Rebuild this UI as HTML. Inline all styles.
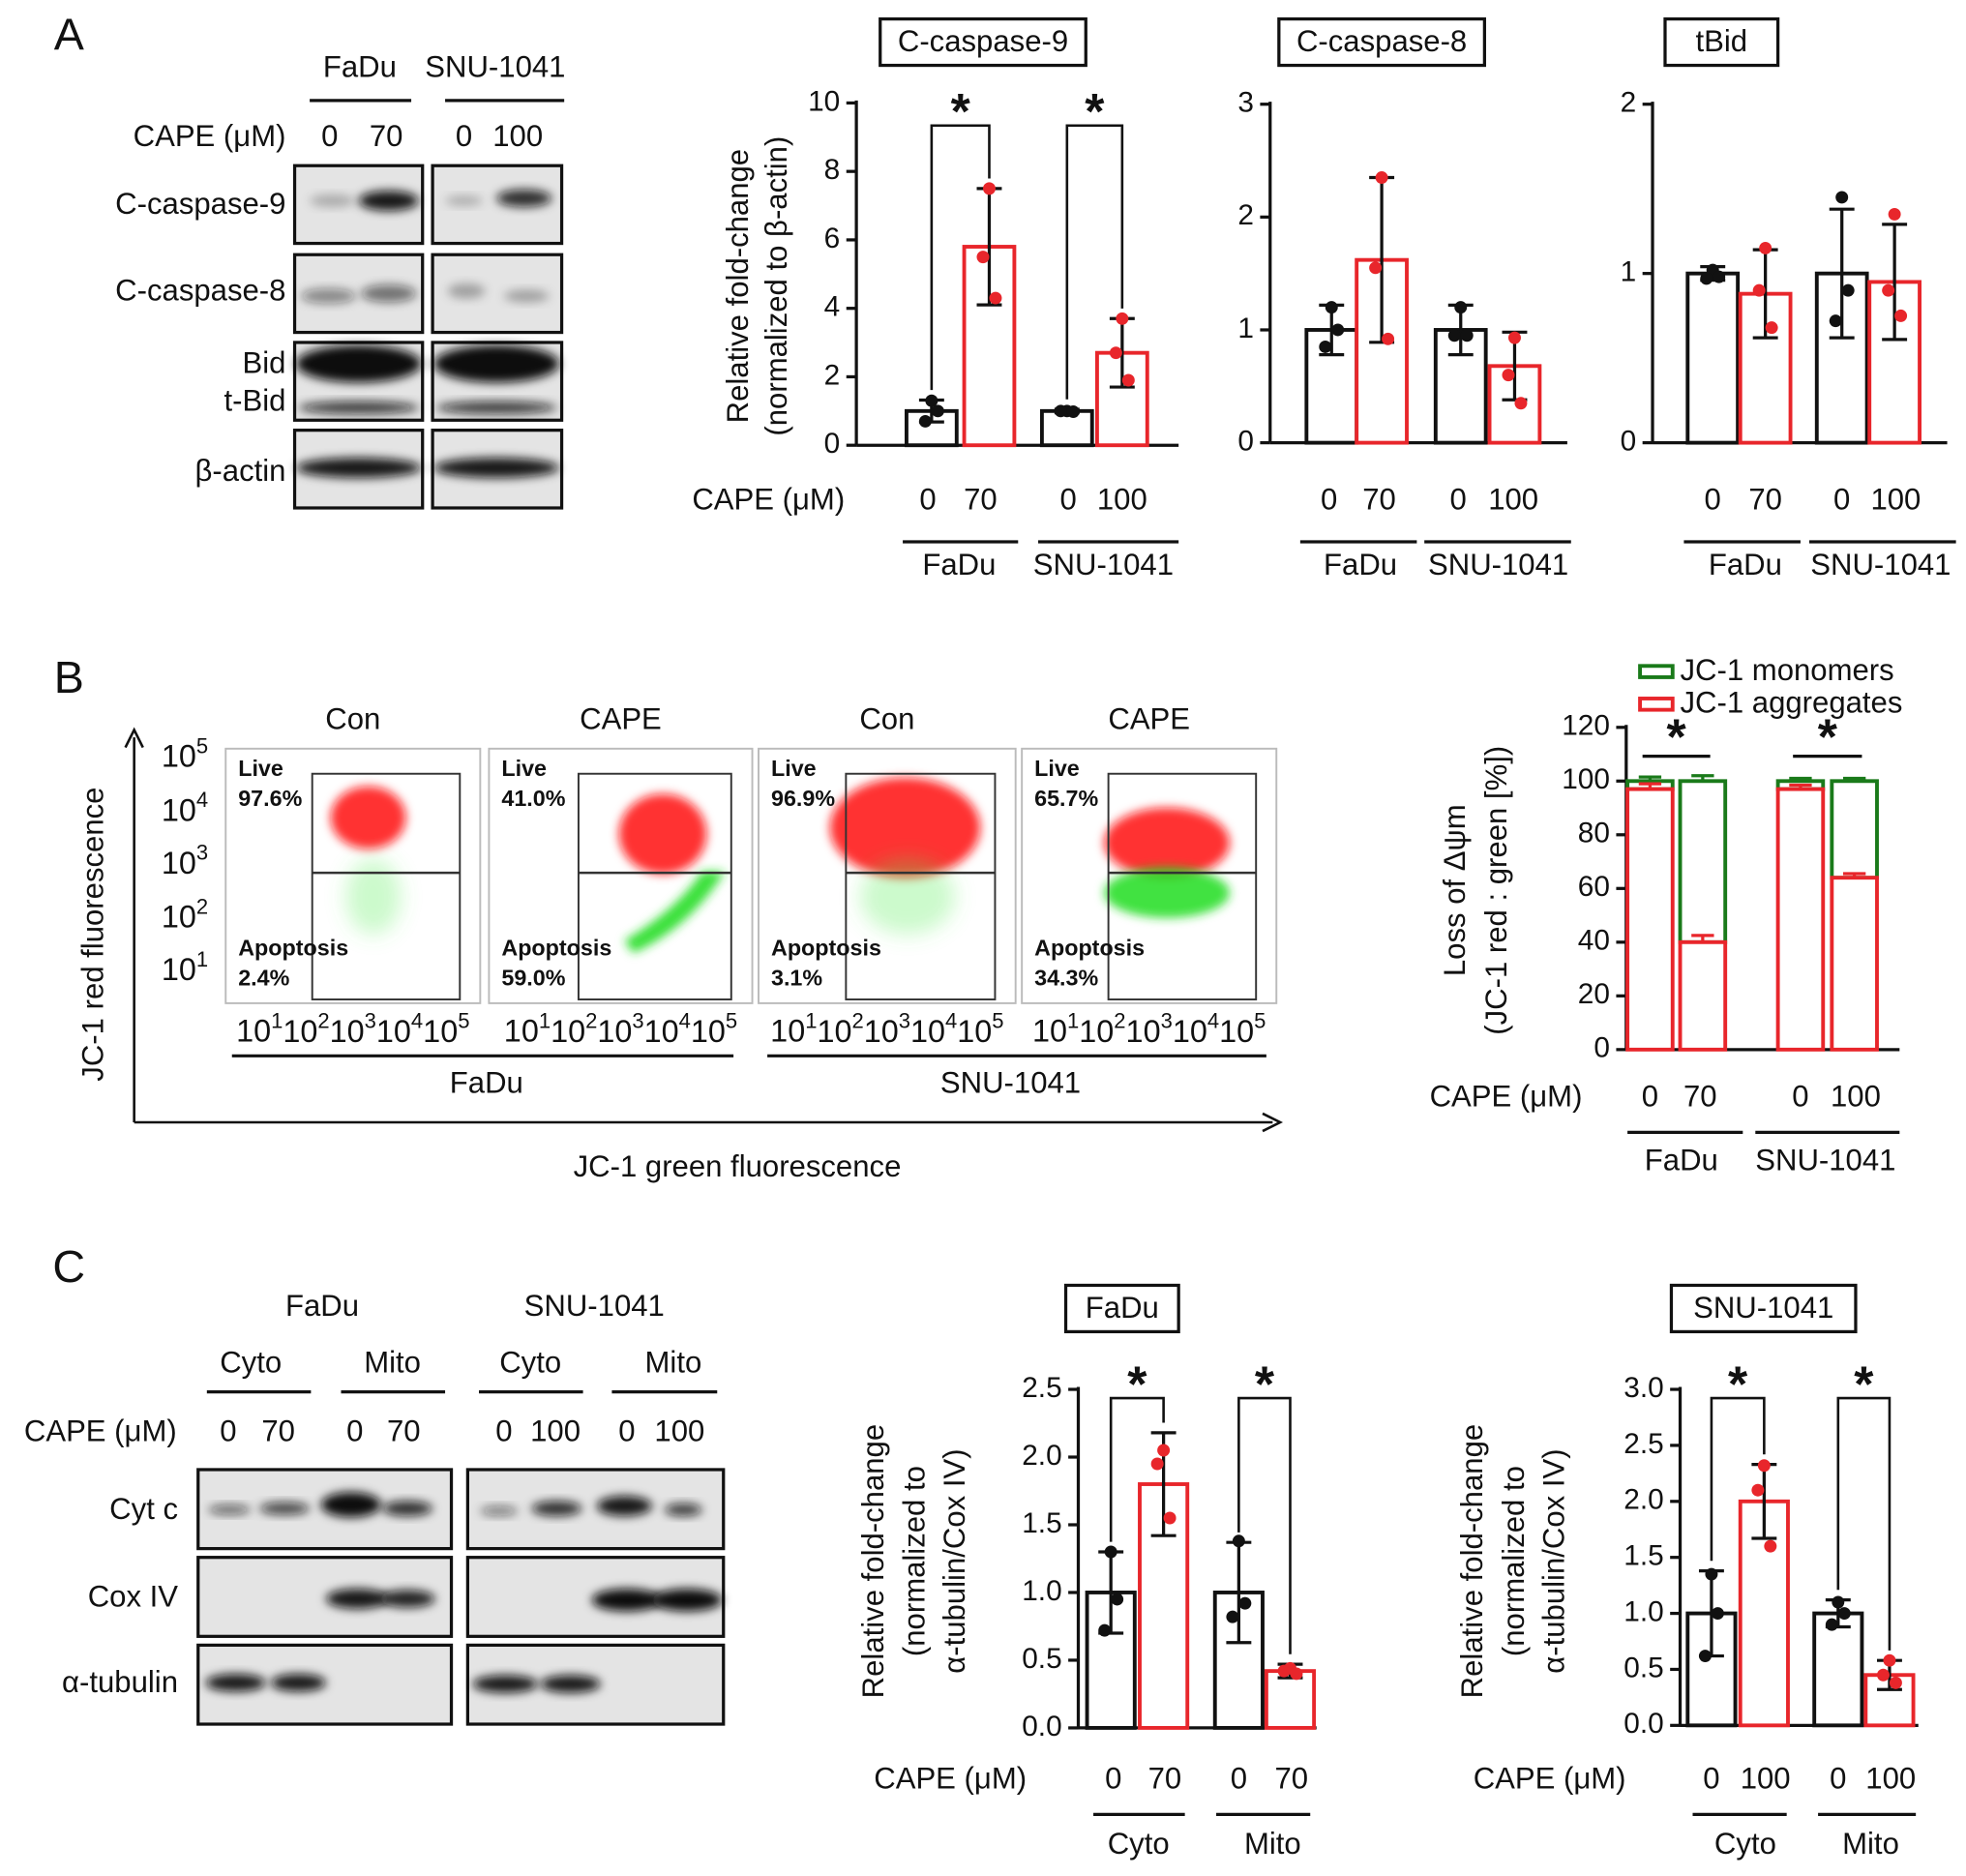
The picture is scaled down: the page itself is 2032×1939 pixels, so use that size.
<!DOCTYPE html>
<html><head><meta charset="utf-8">
<style>
html,body{margin:0;padding:0;background:#fff;}
svg{display:block;font-family:"Liberation Sans",Arial,sans-serif;}
</style></head>
<body>
<svg id="fig" width="2032" height="1939" viewBox="0 0 1568 1496" xmlns="http://www.w3.org/2000/svg">
<defs>
<filter id="blur" x="-50%" y="-50%" width="200%" height="200%"><feGaussianBlur stdDeviation="4"/></filter>
<filter id="blur2" x="-50%" y="-50%" width="200%" height="200%"><feGaussianBlur stdDeviation="8"/></filter>
</defs>
<g id="root"></g>
</svg>
<script>
// ---------- DATA ----------
const aCategories = ["FaDu 0","FaDu 70","SNU-1041 0","SNU-1041 100"];
const casp9Values = [1.0, 5.8, 1.0, 2.7];
const casp9Errors = [0.32, 1.7, 0.05, 1.0];
const casp9Points = [[1.3,1.0,0.7],[7.5,5.5,4.3],[1.0,0.98,1.0],[3.7,2.7,1.9]];
const casp9Ticks = [0,2,4,6,8,10];
const casp8Values = [1.0, 1.62, 1.0, 0.68];
const casp8Errors = [0.22, 0.73, 0.22, 0.3];
const casp8Points = [[1.2,1.0,0.85],[2.35,1.55,0.92],[1.2,0.95,0.95],[0.93,0.6,0.35]];
const casp8Ticks = [0,1,2,3];
const tbidValues = [1.0, 0.88, 1.0, 0.95];
const tbidErrors = [0.04, 0.26, 0.38, 0.34];
const tbidPoints = [[1.02,0.98,0.97],[1.15,0.9,0.68],[1.45,0.9,0.72],[1.35,0.9,0.75]];
const tbidTicks = [0,1,2];
const jcCategories = ["FaDu 0","FaDu 70","SNU-1041 0","SNU-1041 100"];
const jcAggregates = [97, 40, 97, 64];
const jcAggErrors = [2, 2.5, 1.5, 1.5];
const jcMonomerErrors = [1.5, 2, 1, 1];
const jcTicks = [0,20,40,60,80,100,120];
const cytoMitoCats = ["Cyto 0","Cyto CAPE","Mito 0","Mito CAPE"];
const fadu3Values = [1.0, 1.8, 1.0, 0.42];
const fadu3Errors = [0.3, 0.38, 0.37, 0.05];
const fadu3Points = [[1.3,0.95,0.72],[2.05,1.95,1.55],[1.38,0.92,0.82],[0.44,0.42,0.40]];
const fadu3Ticks = [0,0.5,1.0,1.5,2.0,2.5];
const snu3Values = [1.0, 2.0, 1.0, 0.45];
const snu3Errors = [0.38, 0.33, 0.12, 0.13];
const snu3Points = [[1.35,1.0,0.62],[2.32,2.1,1.6],[1.1,1.0,0.9],[0.58,0.45,0.38]];
const snu3Ticks = [0,0.5,1.0,1.5,2.0,2.5,3.0];

// ---------- HELPERS ----------
const NS="http://www.w3.org/2000/svg";
const root=document.getElementById('root');
function mk(tag,attrs,parent,text){const e=document.createElementNS(NS,tag);for(const k in attrs)e.setAttribute(k,attrs[k]);if(text!==undefined)e.textContent=text;(parent||root).appendChild(e);return e;}
function txt(x,y,s,size,name,anchor,extra){const e=mk('text',Object.assign({x:x,y:y,'font-size':size,'text-anchor':anchor||'middle','dominant-baseline':'middle',fill:'#111'},extra||{}),null,s);


return e;}
function line(x1,y1,x2,y2,w,c,name){const e=mk('line',{x1:x1,y1:y1,x2:x2,y2:y2,stroke:c||'#111','stroke-width':w||2});


return e;}

function barChart(c){
  const g=mk('g',{});
  
  
  const max=c.ticks[c.ticks.length-1];
  const y=v=>c.y0-(v/max)*(c.y0-c.yTop);
  const ax=mk('line',{x1:c.x0,y1:c.yTop-2,x2:c.x0,y2:c.y0,stroke:'#111','stroke-width':2.5},g);
  
  
  const bx=mk('line',{x1:c.x0,y1:c.y0,x2:c.xEnd,y2:c.y0,stroke:'#111','stroke-width':2.5},g);
  
  
  c.ticks.forEach(t=>{
    const tl=mk('line',{x1:c.x0-8,y1:y(t),x2:c.x0,y2:y(t),stroke:'#111','stroke-width':2.5},g);
    
    
    const lab=c.fmt?t.toFixed(1):String(t);
    txt(c.x0-13,y(t),lab,23,'y-tick-label','end');
  });
  c.values.forEach((v,i)=>{
    const col=i%2?'#e8262b':'#111';
    const cx=c.centers[i];
    const r=mk('rect',{x:cx-c.bw/2,y:y(v),width:c.bw,height:c.y0-y(v),fill:'#fff',stroke:col,'stroke-width':3},g);
    
    
    const e=c.errors[i];
    const el=mk('path',{d:`M${cx},${y(v-e)}V${y(v+e)}M${cx-10},${y(v+e)}H${cx+10}M${cx-10},${y(v-e)}H${cx+10}`,stroke:'#111','stroke-width':2.5,fill:'none'},g);
    
    
    const offs=[0,-5,5];
    c.points[i].forEach((p,j)=>{
      const d=mk('circle',{cx:cx+offs[j]*(i%2?1:-1),cy:y(p),r:5,fill:i%2?'#e8262b':'#111'},g);
      
      
    });
  });
  if(c.sig){c.sig.forEach(pair=>{
    const a=pair[0],b=pair[1];
    const top=c.bracketY;
    const p=mk('path',{d:`M${c.centers[a]},${y(c.values[a]+c.errors[a])-8}V${top}H${c.centers[b]}V${y(c.values[b]+c.errors[b])-8}`,stroke:'#111','stroke-width':2,fill:'none'},g);
    
    
    txt((c.centers[a]+c.centers[b])/2,top-8,'*',40,'significance-star','middle',{'font-weight':'bold'});
  });}
}

function titleBox(x1,y1,x2,y2,s,name){
  const r=mk('rect',{x:x1,y:y1,width:x2-x1,height:y2-y1,fill:'#fff',stroke:'#111','stroke-width':2.5});
  
  
  txt((x1+x2)/2,(y1+y2)/2+1,s,24,name);
}
function rotLabel(x,cy,s,name){
  return txt(x,cy,s,24,name,'middle',{transform:`rotate(-90 ${x} ${cy})`});
}
function blotBox(x,y,w,h,name){
  const r=mk('rect',{x:x,y:y,width:w,height:h,fill:'#e4e4e4',stroke:'#111','stroke-width':2.5});
  
  
}
function band(cx,cy,rx,ry,op){
  const e=mk('ellipse',{cx:cx,cy:cy,rx:rx,ry:ry,fill:'#111','fill-opacity':op,filter:'url(#blur)'});
  
  
}

// ---------- PANEL A ----------
txt(55,30,'A',36,'panel-a-label');
txt(287,55,'FaDu',24,'fadu-header');txt(395,55,'SNU-1041',24,'snu-header');
line(247,80,328,80,2.5);line(355,80,450,80,2.5);
txt(228,110,'CAPE (μM)',24,'cape-label','end');
txt(263,110,'0',24,'dose');txt(308,110,'70',24,'dose');txt(370,110,'0',24,'dose');txt(413,110,'100',24,'dose');
const rowsA=[[132,'C-caspase-9'],[203,'C-caspase-8'],[273,'Bid'],[343,'β-actin']];
rowsA.forEach(r=>{blotBox(235,r[0],102,62,'blot-left');blotBox(345,r[0],103,62,'blot-right');});
txt(228,164,'C-caspase-9',24,'blot-label','end');
txt(228,233,'C-caspase-8',24,'blot-label','end');
txt(228,291,'Bid',24,'blot-label','end');
txt(228,321,'t-Bid',24,'blot-label','end');
txt(228,377,'β-actin',24,'blot-label','end');
band(310,160,24,8,0.95);band(265,160,18,5,0.25);band(418,158,22,7,0.85);band(370,160,15,4,0.25);
band(262,236,22,6,0.45);band(310,234,22,7,0.55);band(372,232,15,6,0.3);band(420,236,18,5,0.3);
band(286,290,50,15,1);band(396,290,50,15,1);band(286,325,48,5,0.8);band(396,325,48,5,0.8);
band(286,373,50,8,0.95);band(396,373,50,8,0.95);

titleBox(702,15,866,52,'C-caspase-9','title-c-caspase-9');
titleBox(1020,15,1184,52,'C-caspase-8','title-c-caspase-8');
titleBox(1328,15,1418,52,'tBid','title-tbid');
barChart({name:'chart-c-caspase-9',x0:683,xEnd:940,y0:355,yTop:82,ticks:casp9Ticks,values:casp9Values,errors:casp9Errors,points:casp9Points,centers:[743,789,851,895],bw:40,sig:[[0,1],[2,3]],bracketY:100});
barChart({name:'chart-c-caspase-8',x0:1013,xEnd:1250,y0:353,yTop:83,ticks:casp8Ticks,values:casp8Values,errors:casp8Errors,points:casp8Points,centers:[1062,1102,1165,1208],bw:40});
barChart({name:'chart-tbid',x0:1318,xEnd:1553,y0:353,yTop:83,ticks:tbidTicks,values:tbidValues,errors:tbidErrors,points:tbidPoints,centers:[1366,1408,1469,1511],bw:40});
rotLabel(590,228,'Relative fold-change','y-axis-title');
rotLabel(621,228,'(normalized to β-actin)','y-axis-title');
txt(552,400,'CAPE (μM)',24,'cape-label','start');
function doseRow(xs,labs,y){xs.forEach((x,i)=>txt(x,y,labs[i],24,'dose-label'));}
doseRow([740,782,852,895],['0','70','0','100'],400);
line(720,432,812,432,2.5);line(828,432,940,432,2.5);
txt(765,452,'FaDu',24,'group-label');txt(880,452,'SNU-1041',24,'group-label');
doseRow([1060,1100,1163,1207],['0','70','0','100'],400);
line(1037,432,1130,432,2.5);line(1136,432,1253,432,2.5);
txt(1085,452,'FaDu',24,'group-label');txt(1195,452,'SNU-1041',24,'group-label');
doseRow([1366,1408,1469,1512],['0','70','0','100'],400);
line(1343,432,1436,432,2.5);line(1443,432,1560,432,2.5);
txt(1392,452,'FaDu',24,'group-label');txt(1500,452,'SNU-1041',24,'group-label');

// ---------- PANEL B ----------
txt(55,543,'B',36,'panel-b-label');
const flowX=[180,390,605,815];const flowW=[203,210,205,203];
const flowTitles=['Con','CAPE','Con','CAPE'];
const flowLive=['97.6%','41.0%','96.9%','65.7%'];
const flowApo=['2.4%','59.0%','3.1%','34.3%'];
flowX.forEach((x,i)=>{
  const w=flowW[i];
  const f=mk('rect',{x:x,y:597,width:w,height:203,fill:'#fff',stroke:'#bbb','stroke-width':1.5});
  
  
  const gx=x+w*0.34, gw=w*0.58;
  const rc=[[x+w*0.56,652,30,25],[x+w*0.66,665,35,32],[x+w*0.57,660,60,40],[x+w*0.57,672,50,28]][i];
  const cl=mk('ellipse',{cx:rc[0],cy:rc[1],rx:rc[2],ry:rc[3],fill:'#ff1010','fill-opacity':0.85,filter:'url(#blur)'});
  
  
  if(i===1){const gp=mk('path',{d:`M${x+115},760 Q${x+160},740 ${x+188},695 L${x+170},695 Q${x+150},725 ${x+108},750 Z`,fill:'#22dd22','fill-opacity':0.9,filter:'url(#blur)'});
    }
  else if(i===3){const gp=mk('ellipse',{cx:x+w*0.57,cy:712,rx:50,ry:20,fill:'#22dd22','fill-opacity':0.85,filter:'url(#blur)'});
    }
  else {const gp=mk('ellipse',{cx:x+w*0.58,cy:715,rx:22+i*8,ry:30,fill:'#55ee55','fill-opacity':0.3,filter:'url(#blur2)'});
    }
  const gate=mk('rect',{x:gx,y:617,width:gw,height:180,fill:'none',stroke:'#333','stroke-width':1.5});
  
  
  line(gx,696,gx+gw,696,2,'#333','gate-divider');
  txt(x+10,614,'Live',18,'live-label','start',{'font-weight':'bold'});
  txt(x+10,638,flowLive[i],18,'live-percent','start',{'font-weight':'bold'});
  txt(x+10,757,'Apoptosis',18,'apoptosis-label','start',{'font-weight':'bold'});
  txt(x+10,781,flowApo[i],18,'apoptosis-percent','start',{'font-weight':'bold'});
  txt(flowX[i]+w/2,575,flowTitles[i],24,'flow-title');
  const xt=mk('text',{x:x+w/2,y:824,'font-size':25,'text-anchor':'middle','dominant-baseline':'middle',fill:'#111'},null);
  
  
  xt.innerHTML='10<tspan dy="-9" font-size="17">1</tspan><tspan dy="9">10</tspan><tspan dy="-9" font-size="17">2</tspan><tspan dy="9">10</tspan><tspan dy="-9" font-size="17">3</tspan><tspan dy="9">10</tspan><tspan dy="-9" font-size="17">4</tspan><tspan dy="9">10</tspan><tspan dy="-9" font-size="17">5</tspan>';
});
[605,648,690,733,775].forEach((yy,i)=>{
  const t=mk('text',{x:166,y:yy,'font-size':25,'text-anchor':'end','dominant-baseline':'middle',fill:'#111'});
  
  
  t.innerHTML='10<tspan dy="-9" font-size="17">'+(5-i)+'</tspan>';
});
line(185,842,585,842,2.5);line(612,842,1010,842,2.5);
txt(388,865,'FaDu',24,'group-label');txt(806,865,'SNU-1041',24,'group-label');
line(107,895,1015,895,2,'#111','x-arrow');line(107,895,107,588,2,'#111','y-arrow');
mk('path',{d:'M100,596 L107,582 L114,596',fill:'none',stroke:'#111','stroke-width':2});
mk('path',{d:'M1007,888 L1021,895 L1007,902',fill:'none',stroke:'#111','stroke-width':2});
rotLabel(76,745,'JC-1 red fluorescence','y-axis-title');
txt(588,932,'JC-1 green fluorescence',24,'x-axis-title');

(function(){
  const x0=1297,y0=837,yTop=580,max=120;
  const y=v=>y0-(v/max)*(y0-yTop);
  const centers=[1316,1358,1436,1479],bw=36;
  line(x0,yTop-2,x0,y0,2.5,'#111','y-axis');line(x0,y0,1515,y0,2.5,'#111','x-axis');
  jcTicks.forEach(t=>{line(x0-8,y(t),x0,y(t),2.5,'#111','y-tick');txt(x0-13,y(t),String(t),23,'y-tick-label','end');});
  jcAggregates.forEach((v,i)=>{
    const cx=centers[i];
    const g=mk('rect',{x:cx-bw/2,y:y(100),width:bw,height:y(v)-y(100),fill:'#fff',stroke:'#1a7a1a','stroke-width':3});
    
    
    const r=mk('rect',{x:cx-bw/2,y:y(v),width:bw,height:y0-y(v),fill:'#fff',stroke:'#e8262b','stroke-width':3});
    
    
    const e=jcAggErrors[i],m=jcMonomerErrors[i];
    const p1=mk('path',{d:`M${cx},${y(v)}V${y(v+e)}M${cx-9},${y(v+e)}H${cx+9}`,stroke:'#e8262b','stroke-width':2.5,fill:'none'});
    
    const p2=mk('path',{d:`M${cx},${y(100)}V${y(100+m)}M${cx-9},${y(100+m)}H${cx+9}`,stroke:'#1a7a1a','stroke-width':2.5,fill:'none'});
    
  });
  [[0,1],[2,3]].forEach(p=>{line(centers[p[0]]-6,603,centers[p[1]]+6,603,2.5,'#111','significance-bracket');
    txt((centers[p[0]]+centers[p[1]])/2,591,'*',40,'significance-star','middle',{'font-weight':'bold'});});
  const l1=mk('rect',{x:1308,y:531,width:26,height:9,fill:'#fff',stroke:'#1a7a1a','stroke-width':3});
  
  txt(1340,536,'JC-1 monomers',24,'legend-monomers','start');
  const l2=mk('rect',{x:1308,y:557,width:26,height:9,fill:'#fff',stroke:'#e8262b','stroke-width':3});
  
  txt(1340,562,'JC-1 aggregates',24,'legend-aggregates','start');
  rotLabel(1162,710,'Loss of Δψm','y-axis-title');
  rotLabel(1195,710,'(JC-1 red : green [%])','y-axis-title');
  txt(1262,876,'CAPE (μM)',24,'cape-label','end');
  doseRow([1316,1356,1436,1480],['0','70','0','100'],876);
  line(1298,903,1390,903,2.5);line(1400,903,1515,903,2.5);
  txt(1341,927,'FaDu',24,'group-label');txt(1456,927,'SNU-1041',24,'group-label');
})();

// ---------- PANEL C ----------
txt(55,1013,'C',36,'panel-c-label');
txt(257,1043,'FaDu',24,'fadu-header');txt(474,1043,'SNU-1041',24,'snu-header');
txt(200,1088,'Cyto',24,'fraction-label');txt(313,1088,'Mito',24,'fraction-label');
txt(423,1088,'Cyto',24,'fraction-label');txt(537,1088,'Mito',24,'fraction-label');
line(165,1110,248,1110,2.5);line(272,1110,355,1110,2.5);line(382,1110,465,1110,2.5);line(488,1110,572,1110,2.5);
txt(141,1143,'CAPE (μM)',24,'cape-label','end');
doseRow([182,222,283,322,402,443,500,542],['0','70','0','70','0','100','0','100'],1143);
[1172,1242,1312].forEach(yy=>{blotBox(158,yy,202,63,'blot-left');blotBox(373,yy,204,63,'blot-right');});
txt(142,1205,'Cyt c',24,'blot-label','end');txt(142,1275,'Cox IV',24,'blot-label','end');txt(142,1343,'α-tubulin',24,'blot-label','end');
band(183,1204,17,4,0.6);band(227,1203,20,5,0.75);band(280,1200,24,10,1);band(325,1203,20,6,0.85);
band(398,1205,15,4,0.5);band(444,1203,20,6,0.85);band(498,1201,22,8,0.95);band(545,1204,15,5,0.8);
band(285,1275,25,8,0.95);band(325,1275,22,7,0.9);band(500,1276,28,9,1);band(548,1276,28,9,1);
band(188,1342,24,7,0.95);band(238,1342,22,7,0.95);band(403,1343,26,7,0.95);band(455,1343,24,7,0.95);
titleBox(850,1025,940,1062,'FaDu','title-fadu');
titleBox(1333,1025,1480,1062,'SNU-1041','title-snu-1041');
barChart({name:'chart-fadu-cytc',x0:860,xEnd:1050,y0:1378,yTop:1108,ticks:fadu3Ticks,values:fadu3Values,errors:fadu3Errors,points:fadu3Points,centers:[886,928,988,1029],bw:38,sig:[[0,1],[2,3]],bracketY:1115,fmt:true});
barChart({name:'chart-snu-cytc',x0:1340,xEnd:1530,y0:1376,yTop:1108,ticks:snu3Ticks,values:snu3Values,errors:snu3Errors,points:snu3Points,centers:[1365,1407,1466,1507],bw:38,sig:[[0,1],[2,3]],bracketY:1115,fmt:true});
rotLabel(698,1245,'Relative fold-change','y-axis-title');
rotLabel(731,1245,'(normalized to','y-axis-title');
rotLabel(763,1245,'α-tubulin/Cox IV)','y-axis-title');
rotLabel(1176,1245,'Relative fold-change','y-axis-title');
rotLabel(1209,1245,'(normalized to','y-axis-title');
rotLabel(1241,1245,'α-tubulin/Cox IV)','y-axis-title');
txt(697,1420,'CAPE (μM)',24,'cape-label','start');
doseRow([888,929,988,1030],['0','70','0','70'],1420);
line(872,1447,945,1447,2.5);line(970,1447,1045,1447,2.5);
txt(908,1472,'Cyto',24,'group-label');txt(1015,1472,'Mito',24,'group-label');
txt(1175,1420,'CAPE (μM)',24,'cape-label','start');
doseRow([1365,1408,1466,1508],['0','100','0','100'],1420);
line(1350,1447,1425,1447,2.5);line(1450,1447,1528,1447,2.5);
txt(1392,1472,'Cyto',24,'group-label');txt(1492,1472,'Mito',24,'group-label');
</script>
</body></html>
